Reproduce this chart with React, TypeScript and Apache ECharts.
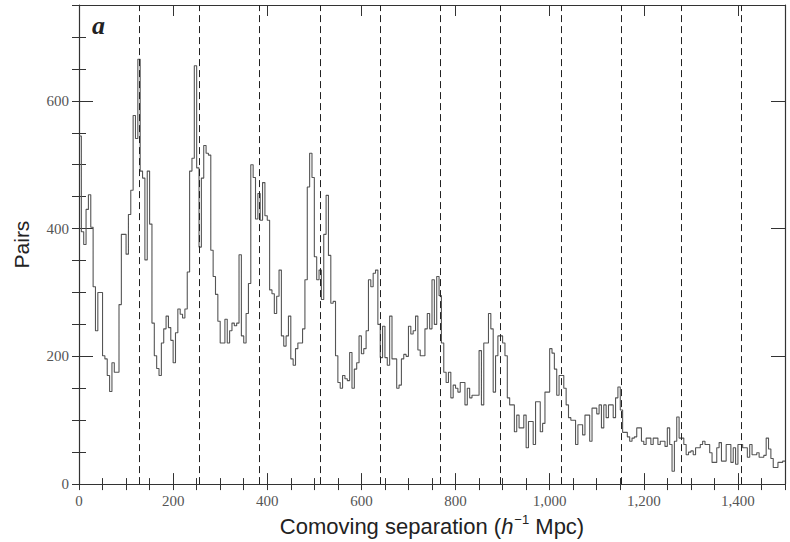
import React, { useEffect, useRef } from "react";
import * as echarts from "echarts";

// Pair counts per separation bin (h^-1 Mpc), bins of BIN_WIDTH starting at 0
const BIN_WIDTH = 5;
const pairCounts = [
  545, 395, 375, 430, 453, 402, 309, 240, 300, 300,
  201, 196, 170, 145, 190, 175, 175, 281, 391, 391,
  360, 422, 460, 577, 541, 665, 490, 479, 351, 490,
  407, 252, 201, 181, 170, 221, 243, 263, 245, 225,
  190, 237, 274, 266, 260, 274, 332, 490, 510, 655,
  495, 371, 479, 530, 518, 515, 366, 325, 297, 255,
  221, 221, 258, 221, 240, 252, 248, 252, 359, 232,
  221, 267, 314, 500, 480, 415, 455, 413, 472, 420,
  413, 304, 298, 267, 294, 335, 232, 216, 232, 263,
  196, 186, 212, 221, 221, 243, 320, 465, 518, 480,
  356, 320, 335, 289, 391, 452, 358, 283, 286, 201,
  159, 150, 170, 165, 162, 206, 150, 180, 190, 232,
  204, 212, 240, 320, 309, 330, 335, 250, 198, 247,
  198, 186, 263, 196, 196, 150, 155, 196, 203, 200,
  247, 235, 240, 263, 210, 201, 201, 243, 267, 243,
  320, 250, 325, 295, 221, 175, 159, 175, 135, 155,
  150, 144, 159, 159, 124, 150, 135, 139, 139, 139,
  209, 124, 221, 221, 267, 243, 144, 201, 232, 232,
  221, 201, 135, 124, 124, 82, 108, 88, 88, 108,
  57, 98, 98, 62, 129, 129, 82, 95, 144, 144,
  212, 205, 180, 139, 170, 170, 150, 124, 104, 100,
  100, 62, 93, 93, 77, 108, 108, 67, 119, 119,
  110, 124, 88, 124, 104, 124, 124, 104, 135, 152,
  116, 81, 81, 74, 67, 72, 74, 88, 88, 67,
  62, 72, 72, 62, 72, 72, 62, 67, 67, 59,
  88, 62, 20, 67, 105, 72, 72, 62, 46, 50,
  52, 46, 57, 57, 62, 67, 62, 62, 49, 34,
  34, 57, 65, 36, 36, 62, 62, 34, 57, 31,
  62, 62, 57, 57, 42, 62, 46, 46, 49, 42,
  42, 45, 72, 55, 40, 26, 26, 34, 34, 36,
];

// Periodic spacing markers (multiples of 128 h^-1 Mpc)
const periodLines = [128, 256, 384, 512, 640, 768, 896, 1024, 1152, 1280, 1408];

const X_MIN = 0;
const X_MAX = 1500;
const Y_MIN = 0;
const Y_MAX = 750;
const X_LABEL_STEP = 200;
const Y_LABEL_STEP = 200;
const MINOR_STEP = 50;

const FRAME = "#333";
const LABEL_FONT = "Liberation Serif";
const TITLE_FONT = "Liberation Sans";

function formatThousands(v: number): string {
  return v >= 1000 ? v.toLocaleString("en-US") : String(v);
}

export default function App() {
  const ref = useRef<HTMLDivElement>(null);

  useEffect(() => {
    if (!ref.current) return;
    const chart = echarts.init(ref.current, undefined, { renderer: "svg" });

    const stepPoints: number[][] = pairCounts.map((c, i) => [i * BIN_WIDTH, c]);
    stepPoints.push([pairCounts.length * BIN_WIDTH, pairCounts[pairCounts.length - 1]]);

    const majorX = (position: "bottom" | "top", withLabels: boolean) => ({
      type: "value",
      position,
      min: X_MIN,
      max: X_MAX,
      interval: X_LABEL_STEP,
      axisLine: { show: true, onZero: false, lineStyle: { color: FRAME, width: 1.2 } },
      axisTick: { show: true, inside: true, length: 11, lineStyle: { color: FRAME, width: 1 } },
      axisLabel: {
        show: withLabels,
        margin: 9,
        color: "#555",
        fontFamily: LABEL_FONT,
        fontSize: 15,
        formatter: (v: number) => (v % X_LABEL_STEP === 0 ? formatThousands(v) : ""),
      },
      splitLine: { show: false },
    });
    const minorX = (position: "bottom" | "top") => ({
      type: "value",
      position,
      min: X_MIN,
      max: X_MAX,
      interval: MINOR_STEP,
      axisLine: { show: false },
      axisTick: { show: true, inside: true, length: 6, lineStyle: { color: FRAME, width: 1 } },
      axisLabel: { show: false },
      splitLine: { show: false },
    });
    const majorY = (position: "left" | "right", withLabels: boolean) => ({
      type: "value",
      position,
      min: Y_MIN,
      max: Y_MAX,
      interval: Y_LABEL_STEP,
      axisLine: { show: true, onZero: false, lineStyle: { color: FRAME, width: 1.2 } },
      axisTick: { show: true, inside: true, length: 14, lineStyle: { color: FRAME, width: 1 } },
      axisLabel: {
        show: withLabels,
        margin: 10,
        color: "#555",
        fontFamily: LABEL_FONT,
        fontSize: 15,
        formatter: (v: number) => (v % Y_LABEL_STEP === 0 ? String(v) : ""),
      },
      splitLine: { show: false },
    });
    const minorY = (position: "left" | "right") => ({
      type: "value",
      position,
      min: Y_MIN,
      max: Y_MAX,
      interval: MINOR_STEP,
      axisLine: { show: false },
      axisTick: { show: true, inside: true, length: 7, lineStyle: { color: FRAME, width: 1 } },
      axisLabel: { show: false },
      splitLine: { show: false },
    });

    const xMain: any = majorX("bottom", true);
    xMain.name = "{t|Comoving separation (}{i|h}{s|−1}{t| Mpc)}";
    xMain.nameLocation = "middle";
    xMain.nameGap = 19;
    xMain.nameTextStyle = {
      rich: {
        t: { fontFamily: TITLE_FONT, fontSize: 22, color: "#222", lineHeight: 26 },
        i: { fontFamily: TITLE_FONT, fontStyle: "italic", fontSize: 22, color: "#222", lineHeight: 26 },
        s: { fontFamily: TITLE_FONT, fontSize: 13, color: "#222", lineHeight: 26, verticalAlign: "top", padding: [0, 0, 9, 1] },
      },
    };

    const yMain: any = majorY("left", true);
    yMain.name = "Pairs";
    yMain.nameLocation = "middle";
    yMain.nameGap = 47;
    yMain.nameTextStyle = { fontFamily: TITLE_FONT, fontSize: 21, color: "#222" };

    chart.setOption({
      animation: false,
      backgroundColor: "#fff",
      grid: { left: 79, top: 5, width: 706, height: 485, containLabel: false },
      xAxis: [xMain, minorX("bottom"), majorX("top", false), minorX("top")],
      yAxis: [yMain, minorY("left"), majorY("right", false), minorY("right")],
      graphic: [
        {
          type: "text",
          left: 92,
          top: 12,
          style: {
            text: "a",
            font: "italic bold 26px 'Liberation Serif'",
            fill: "#222",
          },
        },
      ],
      series: [
        {
          type: "line",
          xAxisIndex: 0,
          yAxisIndex: 0,
          step: "end",
          symbol: "none",
          data: stepPoints,
          lineStyle: { color: "#555", width: 1.1 },
          markLine: {
            silent: true,
            symbol: ["none", "none"],
            label: { show: false },
            lineStyle: { color: "#222", width: 1, type: [7, 4] },
            data: periodLines.map((x) => ({ xAxis: x })),
          },
        },
      ],
    });

    return () => chart.dispose();
  }, []);

  return (
    <div
      ref={ref}
      style={{ position: "fixed", left: 0, top: 0, width: 790, height: 542, background: "#fff" }}
    />
  );
}
